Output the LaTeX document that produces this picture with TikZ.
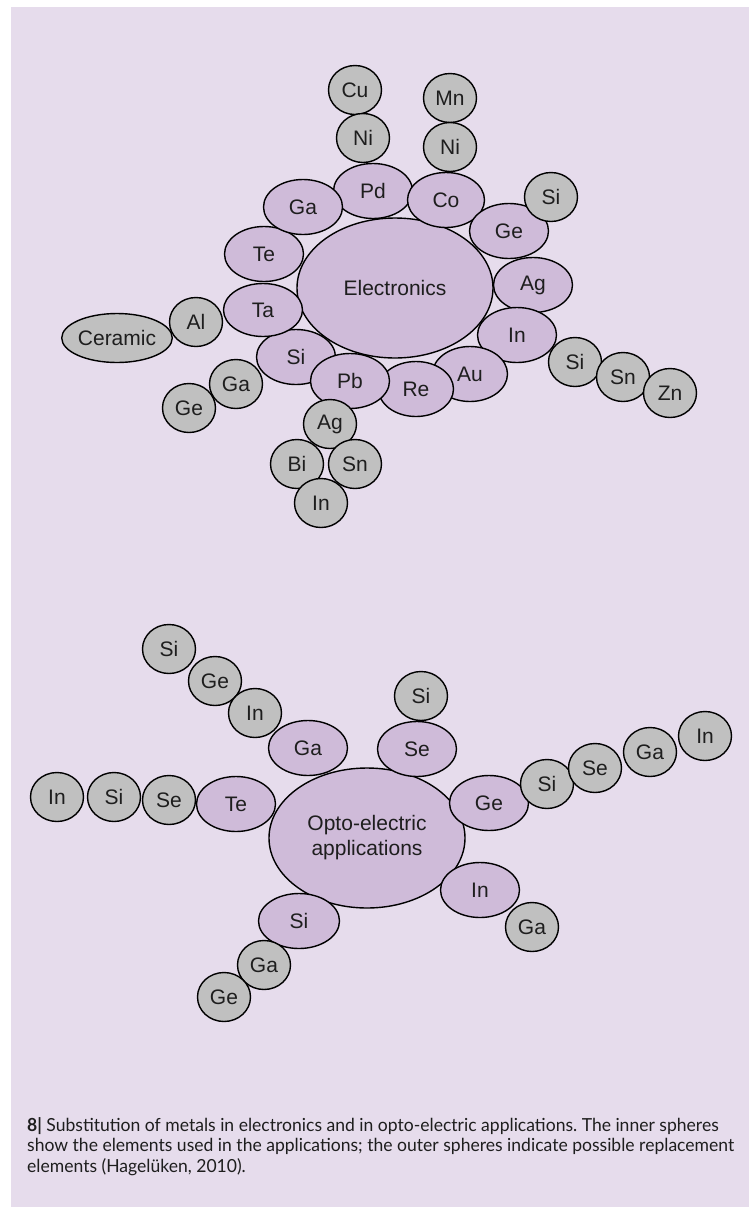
\documentclass[tikz,border=0pt]{standalone}
\usepackage{fontspec}
\setmainfont{Liberation Sans}
\newfontfamily\capfont[FakeStretch=0.975]{Lato}
\usetikzlibrary{shapes.geometric}
\definecolor{bgpurple}{RGB}{230,220,236}
\definecolor{inpurple}{RGB}{207,187,217}
\definecolor{outgray}{RGB}{192,192,192}
\definecolor{inkgray}{RGB}{30,30,30}
\tikzset{
  bubble/.style={ellipse,draw=black,line width=1.4pt,inner sep=0pt,
    text=inkgray,font=\fontsize{21}{25}\selectfont},
  inbub/.style={bubble,fill=inpurple,minimum width=79pt,minimum height=55pt},
  outbub/.style={bubble,fill=outgray,minimum width=53pt,minimum height=49pt},
  hub/.style={bubble,fill=inpurple,minimum width=196pt,minimum height=140pt,align=center}
}
\frenchspacing

\begin{document}
\begin{tikzpicture}[x=1pt,y=-1pt]
\useasboundingbox (0,0) rectangle (752,1208);
\fill[bgpurple] (11,7) rectangle (749,1207);

% electronics
\node[hub] (elec) at (395,288) {Electronics};
\node[inbub] (e-pd) at (373,191) {Pd};
\node[inbub,minimum width=77pt] (e-co) at (446,200) {Co};
\node[inbub] (e-ge) at (509,231) {Ge};
\node[inbub] (e-ag) at (533,285) {Ag};
\node[inbub] (e-in) at (517,335) {In};
\node[inbub,minimum width=75pt] (e-au) at (470,374) {Au};
\node[inbub,minimum width=75pt] (e-re) at (416,389) {Re};
\node[inbub] (e-si) at (296,357) {Si};
\node[inbub] (e-pb) at (350,381) {Pb};
\node[inbub,minimum height=53pt] (e-ta) at (263,310) {Ta};
\node[inbub] (e-te) at (264,254) {Te};
\node[inbub] (e-ga) at (303,207) {Ga};

\node[outbub] (e-cu) at (355,90) {Cu};
\node[outbub] (e-ni1) at (363,138) {Ni};
\node[outbub] (e-mn) at (450,98) {Mn};
\node[outbub] (e-ni2) at (450,147) {Ni};
\node[outbub] (e-si1) at (551,197) {Si};
\node[outbub] (e-si2) at (575,362) {Si};
\node[outbub] (e-sn1) at (623,377) {Sn};
\node[outbub] (e-zn) at (670,393) {Zn};
\node[outbub] (e-ag2) at (330,424) {Ag};
\node[outbub] (e-bi) at (297,464) {Bi};
\node[outbub] (e-sn2) at (355,464) {Sn};
\node[outbub] (e-in2) at (321,503) {In};
\node[outbub] (e-ga2) at (236,384) {Ga};
\node[outbub] (e-ge2) at (189,408) {Ge};
\node[outbub] (e-al) at (196,322) {Al};
\node[outbub,minimum width=104pt] (e-cer) at (117,338) {Ceramic};

% opto-electric
\node[hub] (opto) at (367,838) {Opto-electric\\applications};
\node[inbub] (o-ga) at (308,748) {Ga};
\node[inbub] (o-se) at (417,749) {Se};
\node[inbub] (o-te) at (236,804) {Te};
\node[inbub] (o-ge) at (489,803) {Ge};
\node[inbub] (o-in) at (480,890) {In};
\node[inbub,minimum width=81pt] (o-si) at (299,921) {Si};

\node[outbub] (o-si1) at (169,649) {Si};
\node[outbub] (o-ge1) at (215,681) {Ge};
\node[outbub] (o-in1) at (255,713) {In};
\node[outbub] (o-in2) at (57,797) {In};
\node[outbub] (o-si2) at (114,797) {Si};
\node[outbub] (o-se2) at (169,800) {Se};
\node[outbub] (o-si3) at (421,696) {Si};
\node[outbub] (o-si4) at (547,784) {Si};
\node[outbub] (o-se4) at (595,768) {Se};
\node[outbub] (o-ga4) at (650,752) {Ga};
\node[outbub] (o-in4) at (705,736) {In};
\node[outbub] (o-ga5) at (532,927) {Ga};
\node[outbub] (o-ga6) at (264,965) {Ga};
\node[outbub] (o-ge6) at (224,997) {Ge};

% caption (base = last line)
\node[anchor=base west,align=left,inner sep=0pt,text=inkgray,
  font=\capfont\fontsize{18}{20.5}\selectfont] (caption) at (27,1172)
  {\textbf{8|} Substitution of metals in electronics and in opto-electric applications. The inner spheres\\
   show the elements used in the applications; the outer spheres indicate possible replacement\\
   elements (Hagelüken, 2010).};
\end{tikzpicture}
\end{document}
